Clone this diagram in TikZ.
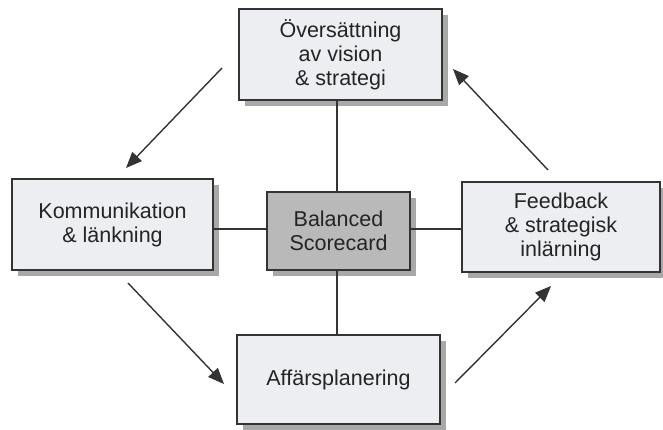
\documentclass[tikz,border=0pt]{standalone}
\usepackage{fontspec}
\setmainfont{Liberation Sans}
\usetikzlibrary{arrows.meta,shadows}
\definecolor{boxfill}{HTML}{EDEEF2}
\definecolor{corefill}{HTML}{B9B9B9}
\definecolor{inkline}{HTML}{333333}
\definecolor{shadowgray}{HTML}{A8A8A8}
\definecolor{inktext}{HTML}{242424}
\begin{document}
\begin{tikzpicture}[x=1pt,y=-1pt,
  panel/.style={draw=inkline, line width=1.1pt, fill=boxfill,
    align=center, inner sep=0pt, text=inktext,
    font=\fontsize{21.5}{24}\selectfont,
    drop shadow={shadow xshift=6pt, shadow yshift=-6pt, fill=shadowgray, opacity=1}},
  core/.style={panel, fill=corefill},
  link/.style={draw=inkline, line width=1.2pt},
  flow/.style={draw=inkline, line width=1.4pt,
    -{Triangle[length=16pt,width=13pt]}}]
\useasboundingbox (0,0) rectangle (663,430);
\fill[white] (0,0) rectangle (663,430);

% guide lines for the connectors around the core
\coordinate (vx) at (337,0);
\coordinate (hy) at (0,229);

\node[core, minimum width=143pt, minimum height=78pt] (bsc) at (338.5,231) {Balanced\\Scorecard};

\node[panel, minimum width=203pt, minimum height=91pt, text depth=3pt] (vision) at (340.5,54.5) {Översättning\\av vision\\\& strategi};
\node[panel, minimum width=201pt, minimum height=91pt] (komm) at (112.5,224.5) {Kommunikation\\\& länkning};
\node[panel, minimum width=198pt, minimum height=90pt] (feed) at (561,227) {Feedback\\\& strategisk\\inlärning};
\node[panel, minimum width=203pt, minimum height=89pt] (affar) at (338.5,379.5) {Affärsplanering};

\draw[link] (vx |- vision.south) -- (vx |- bsc.north);
\draw[link] (vx |- bsc.south) -- (vx |- affar.north);
\draw[link] (komm.east |- hy) -- (bsc.west |- hy);
\draw[link] (bsc.east |- hy) -- (feed.west |- hy);

% cycle arrows between the perspectives
\coordinate (a1s) at (222,68);  \coordinate (a1e) at (126,168);
\coordinate (a2s) at (128,283); \coordinate (a2e) at (224,384);
\coordinate (a3s) at (455,383); \coordinate (a3e) at (551,286);
\coordinate (a4s) at (548,170); \coordinate (a4e) at (453,69);
\draw[flow] (a1s) -- (a1e);
\draw[flow] (a2s) -- (a2e);
\draw[flow] (a3s) -- (a3e);
\draw[flow] (a4s) -- (a4e);
\end{tikzpicture}
\end{document}
